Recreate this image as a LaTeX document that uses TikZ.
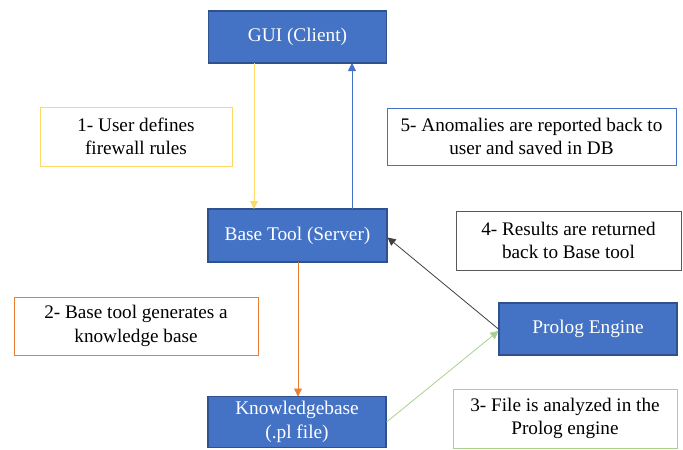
\documentclass[tikz,border=0pt]{standalone}
\usepackage{fontspec}
\setmainfont{Liberation Serif}
\usetikzlibrary{arrows.meta}
\definecolor{boxblue}{HTML}{4472C4}
\definecolor{boxedge}{HTML}{2F528F}
\definecolor{cyellow}{HTML}{FFD966}
\definecolor{corange}{HTML}{ED7D31}
\definecolor{cgreen}{HTML}{A9D18E}
\definecolor{cgray}{HTML}{595959}
\definecolor{cdark}{HTML}{404040}
\tikzset{
  comp/.style={draw=boxedge, line width=0.9pt, fill=boxblue, text=white, align=center,
    font=\fontsize{14.5pt}{17.5pt}\selectfont, inner sep=0pt},
  lab/.style={draw, line width=0.7pt, fill=white, text=black, align=center,
    font=\fontsize{14.4pt}{17.5pt}\selectfont, inner sep=0pt},
  conn/.style={line width=0.6pt, -{Triangle[length=6pt,width=6pt]}}
}
\begin{document}
\begin{tikzpicture}[x=0.75pt,y=-0.75pt]
\useasboundingbox (0,0) rectangle (683,450);
% component boxes
\node[comp, minimum width=178*0.75pt, minimum height=52*0.75pt] (gui) at (297.5,37) {GUI (Client)};
\node[comp, minimum width=179*0.75pt, minimum height=53*0.75pt] (base) at (297.5,235.5) {Base Tool (Server)};
\node[comp, minimum width=178*0.75pt, minimum height=51*0.75pt] (kb) at (297,422) {Knowledgebase\\(.pl file)};
\node[comp, minimum width=178*0.75pt, minimum height=52*0.75pt] (pe) at (588,329) {Prolog Engine};
% label boxes
\node[lab, draw=cyellow, minimum width=192*0.75pt, minimum height=59*0.75pt] (l1) at (136,136.5) {1- User defines\\firewall rules};
\node[lab, draw=boxblue, minimum width=289*0.75pt, minimum height=57*0.75pt] (l5) at (531.5,136.5) {5- Anomalies are reported back to\\user and saved in DB};
\node[lab, draw=cgray, minimum width=225*0.75pt, minimum height=59*0.75pt] (l4) at (568.5,240.5) {4- Results are returned\\back to Base tool};
\node[lab, draw=corange, minimum width=244*0.75pt, minimum height=58*0.75pt] (l2) at (136,326) {2- Base tool generates a\\knowledge base};
\node[lab, draw=cgreen, minimum width=224*0.75pt, minimum height=59*0.75pt] (l3) at (565,418.5) {3- File is analyzed in the\\Prolog engine};
% connectors
\coordinate (gA) at (254,63);
\coordinate (bA) at (254,209);
\coordinate (gB) at (352,63);
\coordinate (bB) at (352,209);
\coordinate (bC) at (298,262);
\coordinate (kC) at (298,396.5);
\draw[conn, cyellow] (gA) -- (bA);
\draw[conn, boxblue] (bB) -- (gB);
\draw[conn, corange] (bC) -- (kC);
\draw[conn, cgreen] (kb.east) -- ([yshift=-2*0.75pt]pe.west);
\draw[conn, cdark] (pe.west) -- ([yshift=-2*0.75pt]base.east);
\end{tikzpicture}
\end{document}
